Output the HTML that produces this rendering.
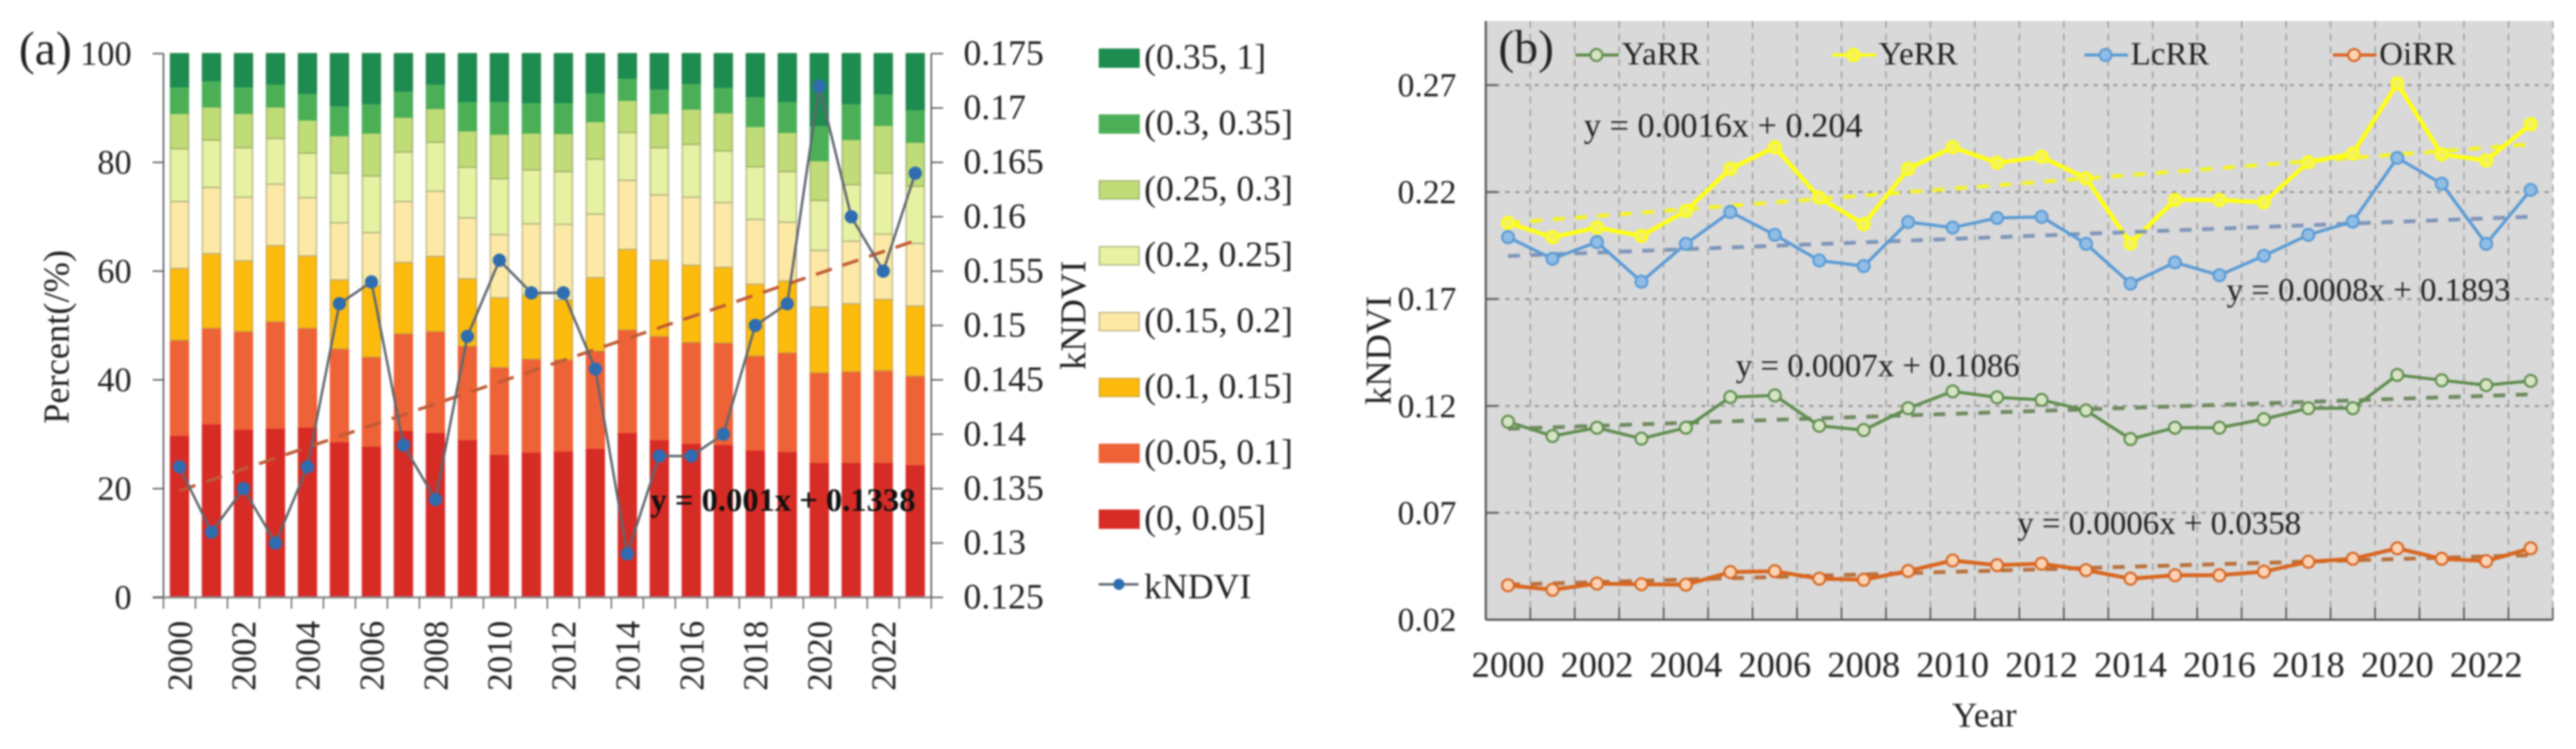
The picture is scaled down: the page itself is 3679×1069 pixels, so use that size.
<!DOCTYPE html>
<html lang="en">
<head>
<meta charset="utf-8">
<title>kNDVI percent bars and river trends</title>
<style>
html,body{margin:0;padding:0;background:#fff;width:3679px;height:1069px;overflow:hidden}
svg{display:block;filter:blur(1.3px)}
text{font-family:"Liberation Serif",serif;fill:#222}
</style>
</head>
<body>
<svg id="fig" xmlns="http://www.w3.org/2000/svg" width="3679" height="1069" viewBox="0 0 3679 1069">
  <rect x="0" y="0" width="3679" height="1069" fill="#ffffff"/>
  <g id="panelA"></g>
  <g id="panelB"></g>
  <text x="27" y="92" font-size="68">(a)</text>
  <text transform="translate(98,605) rotate(-90)" font-size="52">Percent(/%)</text>
  <text transform="translate(1550,528) rotate(-90)" font-size="52">kNDVI</text>
  <text x="929" y="729" font-size="46.5" font-weight="bold" style="fill:#111">y = 0.001x + 0.1338</text>
  <text x="2140" y="90" font-size="68">(b)</text>
  <text transform="translate(1986,578) rotate(-90)" font-size="52">kNDVI</text>
  <text x="2834" y="1037" font-size="50" text-anchor="middle">Year</text>
  <text x="2262" y="195" font-size="49">y = 0.0016x + 0.204</text>
  <text x="3180" y="429" font-size="47">y = 0.0008x + 0.1893</text>
  <text x="2479" y="537" font-size="47">y = 0.0007x + 0.1086</text>
  <text x="2881" y="762" font-size="47">y = 0.0006x + 0.0358</text>
</svg>
<script>
// ---------- Panel (a) data ----------
const years = [2000,2001,2002,2003,2004,2005,2006,2007,2008,2009,2010,2011,2012,2013,2014,2015,2016,2017,2018,2019,2020,2021,2022,2023];
const yearTicks = ["2000","2002","2004","2006","2008","2010","2012","2014","2016","2018","2020","2022"];
const percentTicks = [0,20,40,60,80,100];
const kndviTicks = ["0.125","0.13","0.135","0.14","0.145","0.15","0.155","0.16","0.165","0.17","0.175"];
const binRed    = [29.8,31.9,30.9,31.1,31.3,28.6,27.8,30.7,30.3,29.0,26.3,26.7,26.9,27.4,30.3,29.0,28.3,28.1,27.1,26.8,24.8,24.8,24.8,24.4];
const binOrange = [17.5,17.6,18.0,19.6,18.2,17.1,16.4,17.8,18.6,17.2,16.0,17.1,16.8,17.9,18.9,19.0,18.6,18.7,17.3,18.2,16.5,16.7,16.9,16.3];
const binGold   = [13.2,13.7,13.0,14.0,13.3,12.7,13.1,13.1,13.8,12.4,12.8,11.8,11.0,13.5,14.8,14.0,14.2,13.9,13.2,13.2,12.1,12.5,13.1,12.9];
const binCream  = [12.3,12.2,11.7,11.3,10.7,10.5,9.8,11.2,12.0,11.2,11.6,13.1,13.9,11.7,12.7,12.0,12.5,11.9,11.9,10.8,10.4,11.5,12.0,11.5];
const binPale   = [9.7,8.7,9.1,8.4,8.2,9.1,10.4,9.1,9.0,9.3,10.3,9.9,9.7,10.1,8.8,8.7,9.7,9.5,9.7,9.3,9.2,10.4,11.2,10.5];
const binLime   = [6.5,6.1,6.3,5.8,6.1,6.9,7.9,6.4,6.2,6.7,8.2,6.8,7.0,6.9,5.9,6.3,6.5,7.0,7.4,7.2,7.3,8.3,8.8,8.1];
const binGreen  = [4.9,4.8,4.9,4.2,4.9,5.5,5.4,4.8,4.5,5.4,6.0,5.6,5.7,5.3,4.1,4.5,4.7,4.7,5.5,5.7,6.5,6.6,5.8,6.0];
const binDark   = [6.1,5.0,6.1,5.6,7.3,9.6,9.2,6.9,5.6,8.8,8.8,9.0,9.0,7.2,4.5,6.5,5.5,6.2,7.9,8.8,13.2,9.2,7.4,10.3];
const binLabels = ["(0, 0.05]","(0.05, 0.1]","(0.1, 0.15]","(0.15, 0.2]","(0.2, 0.25]","(0.25, 0.3]","(0.3, 0.35]","(0.35, 1]"];
const kndvi = [0.137,0.131,0.135,0.130,0.137,0.152,0.154,0.139,0.134,0.149,0.156,0.153,0.153,0.146,0.129,0.138,0.138,0.140,0.150,0.152,0.172,0.160,0.155,0.164];
const kndviSlope = 0.001;
const kndviIntercept = 0.1338;

// ---------- Panel (b) data ----------
const bYTicks = ["0.02","0.07","0.12","0.17","0.22","0.27"];
const yarr = [0.1126,0.1059,0.1098,0.1047,0.1098,0.1241,0.1249,0.1107,0.1087,0.1189,0.1268,0.1240,0.1228,0.1179,0.1045,0.1098,0.1098,0.1138,0.1189,0.1189,0.1345,0.1320,0.1297,0.1317];
const yerr = [0.2056,0.1989,0.2034,0.1995,0.2112,0.2309,0.2410,0.2174,0.2050,0.2309,0.2410,0.2337,0.2365,0.2264,0.1960,0.2163,0.2163,0.2152,0.2340,0.2380,0.2708,0.2376,0.2348,0.2517];
const lcrr = [0.1989,0.1888,0.1966,0.1781,0.1958,0.2107,0.2000,0.1880,0.1854,0.2060,0.2034,0.2079,0.2084,0.1958,0.1772,0.1871,0.1811,0.1902,0.2000,0.2062,0.2360,0.2239,0.1958,0.2210];
const oirr = [0.0361,0.0340,0.0369,0.0366,0.0364,0.0423,0.0427,0.0392,0.0387,0.0428,0.0477,0.0455,0.0462,0.0432,0.0392,0.0408,0.0408,0.0425,0.0471,0.0485,0.0534,0.0485,0.0474,0.0534];
const slopes = [0.0007,0.0016,0.0008,0.0006];
const intercepts = [0.1086,0.204,0.1893,0.0358];
const riverNames = ["YaRR","YeRR","LcRR","OiRR"];

// ---------- Styling & scales ----------
const SVGNS = "http://www.w3.org/2000/svg";
const binColors = ["#d72b26","#ee6237","#fdbb0e","#fbe9a5","#e7f1a2","#bfdc78","#4caf58","#1e8b50"];
const binEdges = ["#d72b26","#ee6237","#c9a23a","#b8ab80","#a8ad80","#98ab66","#4caf58","#1e8b50"];
const lineColors = ["#5f8d4e","#ffff14","#5b9bd5","#d9651f"];
const fillColors = ["#d7e4c4","#f4f45a","#8fbde6","#fbd3b4"];
const trendColors = ["#6f8a60","#f4f42c","#7f96b8","#b9713e"];
const lineWidths = [4.5,6,4.5,5.5];

const aLeft = 233.5, aRight = 1330, aBottom = 852.6, aTop = 76.5;
const bLeft = 2122, bRight = 3646, bBottom = 884.5, bTop = 30;
const slotA = (aRight - aLeft) / years.length;
const slotB = (bRight - bLeft) / years.length;
function xA(i){ return aLeft + slotA * (i + 0.5); }
function yPct(p){ return aBottom - (aBottom - aTop) * p / 100; }
function yKn(v){ return aBottom - (aBottom - aTop) * (v - 0.125) / 0.05; }
function xB(i){ return bLeft + slotB * (i + 0.5); }
function yB(v){ return bBottom - (bBottom - bTop) * (v - 0.02) / 0.28; }

function mk(parent, tag, attrs, txt){
  const el = document.createElementNS(SVGNS, tag);
  for (const k in attrs) el.setAttribute(k, attrs[k]);
  if (txt !== undefined) el.textContent = txt;
  parent.appendChild(el);
  return el;
}
const A = document.getElementById("panelA");
const B = document.getElementById("panelB");
let el;

// ---------- Panel (a): stacked bars ----------
const bins = [binRed,binOrange,binGold,binCream,binPale,binLime,binGreen,binDark];
years.forEach(function(yr, i){
  let cum = 0;
  bins.forEach(function(series, s){
    const bottom = cum;
    cum = (s === bins.length - 1) ? 100 : cum + series[i];
    el = mk(A, "rect", {x: xA(i) - 13, y: yPct(cum), width: 26, height: yPct(bottom) - yPct(cum), fill: binColors[s], stroke: binEdges[s], "stroke-width": 1.6});
    
    
  });
});

// Axes of panel (a)
el = mk(A, "line", {x1: aLeft, y1: aTop, x2: aLeft, y2: aBottom, stroke: "#4a4a55", "stroke-width": 2});


el = mk(A, "line", {x1: 218, y1: aBottom, x2: aRight, y2: aBottom, stroke: "#8a8a8a", "stroke-width": 3});


el = mk(A, "line", {x1: aRight, y1: aTop, x2: aRight, y2: aBottom, stroke: "#4a4a55", "stroke-width": 2});



percentTicks.forEach(function(p){
  el = mk(A, "line", {x1: 218, y1: yPct(p), x2: aLeft, y2: yPct(p), stroke: "#555", "stroke-width": 2});
  
  
  el = mk(A, "text", {x: 188, y: yPct(p) + 16, "font-size": 49, "text-anchor": "end"}, String(p));
  
  
});
kndviTicks.forEach(function(t){
  const v = parseFloat(t);
  el = mk(A, "line", {x1: aRight, y1: yKn(v), x2: 1347, y2: yKn(v), stroke: "#555", "stroke-width": 2});
  
  
  el = mk(A, "text", {x: 1376, y: yKn(v) + 16, "font-size": 51}, t);
  
  
});
for (let i = 0; i <= years.length; i++){
  const tx = aLeft + slotA * i;
  el = mk(A, "line", {x1: tx, y1: aBottom, x2: tx, y2: aBottom + 16, stroke: "#666", "stroke-width": 2});
  
  
}
yearTicks.forEach(function(t){
  const i = years.indexOf(parseInt(t, 10));
  const cx = xA(i) + 17;
  el = mk(A, "text", {transform: "translate(" + cx + ",886) rotate(-90)", "font-size": 50, "text-anchor": "end"}, t);
  
  
});

// kNDVI trend, line, markers
el = mk(A, "line", {x1: xA(0), y1: yKn(kndviSlope * 1 + kndviIntercept), x2: xA(years.length - 1), y2: yKn(kndviSlope * years.length + kndviIntercept), stroke: "#c05a36", "stroke-width": 4.5, "stroke-dasharray": "24 16"});


el = mk(A, "polyline", {points: kndvi.map(function(v, i){ return xA(i) + "," + yKn(v); }).join(" "), fill: "none", stroke: "#5f6770", "stroke-width": 3.5});


kndvi.forEach(function(v, i){
  el = mk(A, "circle", {cx: xA(i), cy: yKn(v), r: 9.5, fill: "#2f6db0"});
  
  
});

// Legend of panel (a)
const legendOrder = binLabels.slice().reverse();
legendOrder.forEach(function(lab, n){
  const cy = 83 + n * 94;
  el = mk(A, "rect", {x: 1570, y: cy - 13, width: 57, height: 26, fill: binColors[binColors.length - 1 - n], stroke: binEdges[binEdges.length - 1 - n], "stroke-width": 1.6});
  
  
  el = mk(A, "text", {x: 1634, y: cy + 15, "font-size": 51}, lab);
  
  
});
el = mk(A, "line", {x1: 1569, y1: 834, x2: 1626, y2: 834, stroke: "#5f6770", "stroke-width": 3.5});


el = mk(A, "circle", {cx: 1598, cy: 834, r: 8, fill: "#2f6db0"});


el = mk(A, "text", {x: 1634, y: 854, "font-size": 51}, "kNDVI");



// ---------- Panel (b) ----------
el = mk(B, "rect", {x: bLeft, y: bTop, width: bRight - bLeft, height: bBottom - bTop, fill: "#d9d9d9"});


for (let i = 1; i <= years.length; i++){
  const gx = bLeft + slotB * i;
  el = mk(B, "line", {x1: gx, y1: bTop, x2: gx, y2: bBottom, stroke: "#8f8f8f", "stroke-width": 1.6, "stroke-dasharray": "10 8"});
  
  
  el = mk(B, "line", {x1: gx, y1: bBottom - 17, x2: gx, y2: bBottom, stroke: "#444", "stroke-width": 2});
  
  
}
bYTicks.forEach(function(t){
  const v = parseFloat(t);
  if (v > 0.02){
    el = mk(B, "line", {x1: bLeft, y1: yB(v), x2: bRight, y2: yB(v), stroke: "#9a9a9a", "stroke-width": 3, "stroke-dasharray": "6 8"});
    
    
  }
  el = mk(B, "line", {x1: bLeft, y1: yB(v), x2: bLeft + 17, y2: yB(v), stroke: "#666", "stroke-width": 3});
  
  
  el = mk(B, "text", {x: 2080, y: yB(v) + 16, "font-size": 48, "text-anchor": "end"}, t);
  
  
});
el = mk(B, "line", {x1: bLeft, y1: bTop, x2: bLeft, y2: bBottom, stroke: "#555", "stroke-width": 3});


el = mk(B, "line", {x1: bLeft, y1: bBottom, x2: bRight, y2: bBottom, stroke: "#555", "stroke-width": 3});


yearTicks.forEach(function(t){
  const i = years.indexOf(parseInt(t, 10));
  el = mk(B, "text", {x: xB(i), y: 966, "font-size": 52, "text-anchor": "middle"}, t);
  
  
});

const rivers = [yarr, yerr, lcrr, oirr];
rivers.forEach(function(series, s){
  el = mk(B, "line", {x1: xB(0), y1: yB(slopes[s] * 1 + intercepts[s]), x2: xB(years.length - 1), y2: yB(slopes[s] * years.length + intercepts[s]), stroke: trendColors[s], "stroke-width": 5.5, "stroke-dasharray": "17 15"});
  
  
  el = mk(B, "polyline", {points: series.map(function(v, i){ return xB(i) + "," + yB(v); }).join(" "), fill: "none", stroke: lineColors[s], "stroke-width": lineWidths[s]});
  
  
  series.forEach(function(v, i){
    el = mk(B, "circle", {cx: xB(i), cy: yB(v), r: 8.5, fill: fillColors[s], stroke: lineColors[s], "stroke-width": 3});
    
    
  });
});

// Legend of panel (b)
const legendStart = {YaRR: 2250, YeRR: 2617, LcRR: 2977, OiRR: 3332};
riverNames.forEach(function(name, s){
  const lx = legendStart[name];
  el = mk(B, "line", {x1: lx, y1: 78.5, x2: lx + 62, y2: 78.5, stroke: lineColors[s], "stroke-width": 4.5});
  
  
  el = mk(B, "circle", {cx: lx + 30, cy: 78.5, r: 8.5, fill: fillColors[s], stroke: lineColors[s], "stroke-width": 3});
  
  
  el = mk(B, "text", {x: lx + 66, y: 92, "font-size": 47}, name);
  
  
});
</script>
</body>
</html>
